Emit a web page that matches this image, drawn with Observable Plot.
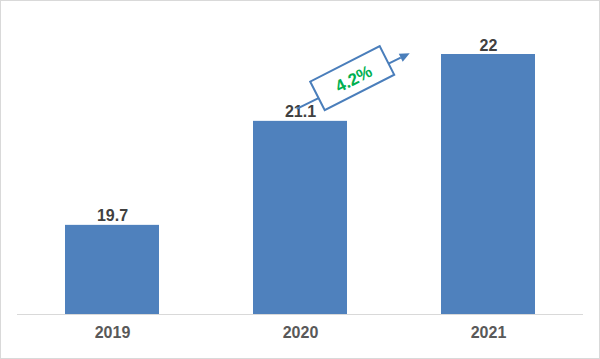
<!DOCTYPE html>
<html>
<head>
<meta charset="utf-8">
<script src="https://cdn.jsdelivr.net/npm/d3@7"></script>
<script src="https://cdn.jsdelivr.net/npm/@observablehq/plot@0.6"></script>
<style>
  html, body { margin: 0; padding: 0; background: #fff; }
  #chart svg { display: block; outline: 1px solid #d9d9d9; outline-offset: -1px; }
</style>
</head>
<body>
<div id="chart"></div>
<script>
const years = ["2019", "2020", "2021"];
const values = [19.7, 21.1, 22];
const labels = ["19.7", "21.1", "22"];
const growthFrom = "2020";
const growthLabel = "4.2%";

const data = years.map((y, i) => ({year: y, value: values[i], label: labels[i]}));
const baseValue = 18.5;

const plot = Plot.plot({
  width: 600,
  height: 359,
  marginTop: 54,
  marginBottom: 45,
  marginLeft: 17,
  marginRight: 17,
  style: {fontFamily: "'Liberation Sans', Arial, sans-serif", fontSize: "16px", fontWeight: "bold", color: "#595959", background: "#fff"},
  x: {domain: years, paddingInner: 0.5, paddingOuter: 0.25, tickSize: 0, tickPadding: 12, label: null},
  y: {domain: [baseValue, 22], axis: null},
  marks: [
    Plot.barY(data, {x: "year", y1: baseValue, y2: "value", fill: "#4f81bd"}),
    Plot.ruleY([baseValue], {stroke: "#d9d9d9", strokeWidth: 1}),
    Plot.text(data, {x: "year", y: "value", text: "label", lineAnchor: "bottom", dy: -4, fill: "#404040", fontSize: 16, fontWeight: "bold"})
  ]
});

document.getElementById("chart").appendChild(plot);

// growth annotation, positioned relative to the 2020 bar via the plot's scales
const xs = plot.scale("x");
const ys = plot.scale("y");
const xband = d3.scaleBand().domain(xs.domain).range(xs.range).paddingInner(xs.paddingInner).paddingOuter(xs.paddingOuter).align(xs.align ?? 0.5);
const idx = years.indexOf(growthFrom);
const yLin = d3.scaleLinear().domain(ys.domain).range(ys.range);
const cx = xband(growthFrom) + xband.bandwidth() / 2;
const cy = yLin(values[idx]);

const svg = d3.select(plot);
const blue = "#4a7ebb";
const g = svg.append("g");
const x0 = cx - 3.3, y0 = cy - 12;
const x1 = cx + 109.7, y1 = cy - 67.6;
const ang = Math.atan2(y1 - y0, x1 - x0);
const headLen = 10, headW = 4.5;
const bx = x1 - headLen * Math.cos(ang), by = y1 - headLen * Math.sin(ang);
g.append("line").attr("x1", x0).attr("y1", y0).attr("x2", bx).attr("y2", by)
  .attr("stroke", blue).attr("stroke-width", 2);
g.append("path")
  .attr("d", `M${x1},${y1}L${bx - headW * Math.sin(ang)},${by + headW * Math.cos(ang)}L${bx + headW * Math.sin(ang)},${by - headW * Math.cos(ang)}Z`)
  .attr("fill", blue);
const bcx = cx + 52.2, bcy = cy - 42.7;
const deg = -27;
const box = g.append("g").attr("transform", `translate(${bcx},${bcy}) rotate(${deg})`);
box.append("rect").attr("x", -39).attr("y", -16).attr("width", 78).attr("height", 32)
  .attr("fill", "#fff").attr("stroke", blue).attr("stroke-width", 2);
box.append("text").attr("text-anchor", "middle").attr("dy", "0.36em").attr("x", 1).attr("y", 1)
  .attr("fill", "#00b050").attr("font-size", 17).attr("font-weight", "bold")
  .attr("font-family", "'Liberation Sans', Arial, sans-serif").text(growthLabel);
</script>
</body>
</html>
